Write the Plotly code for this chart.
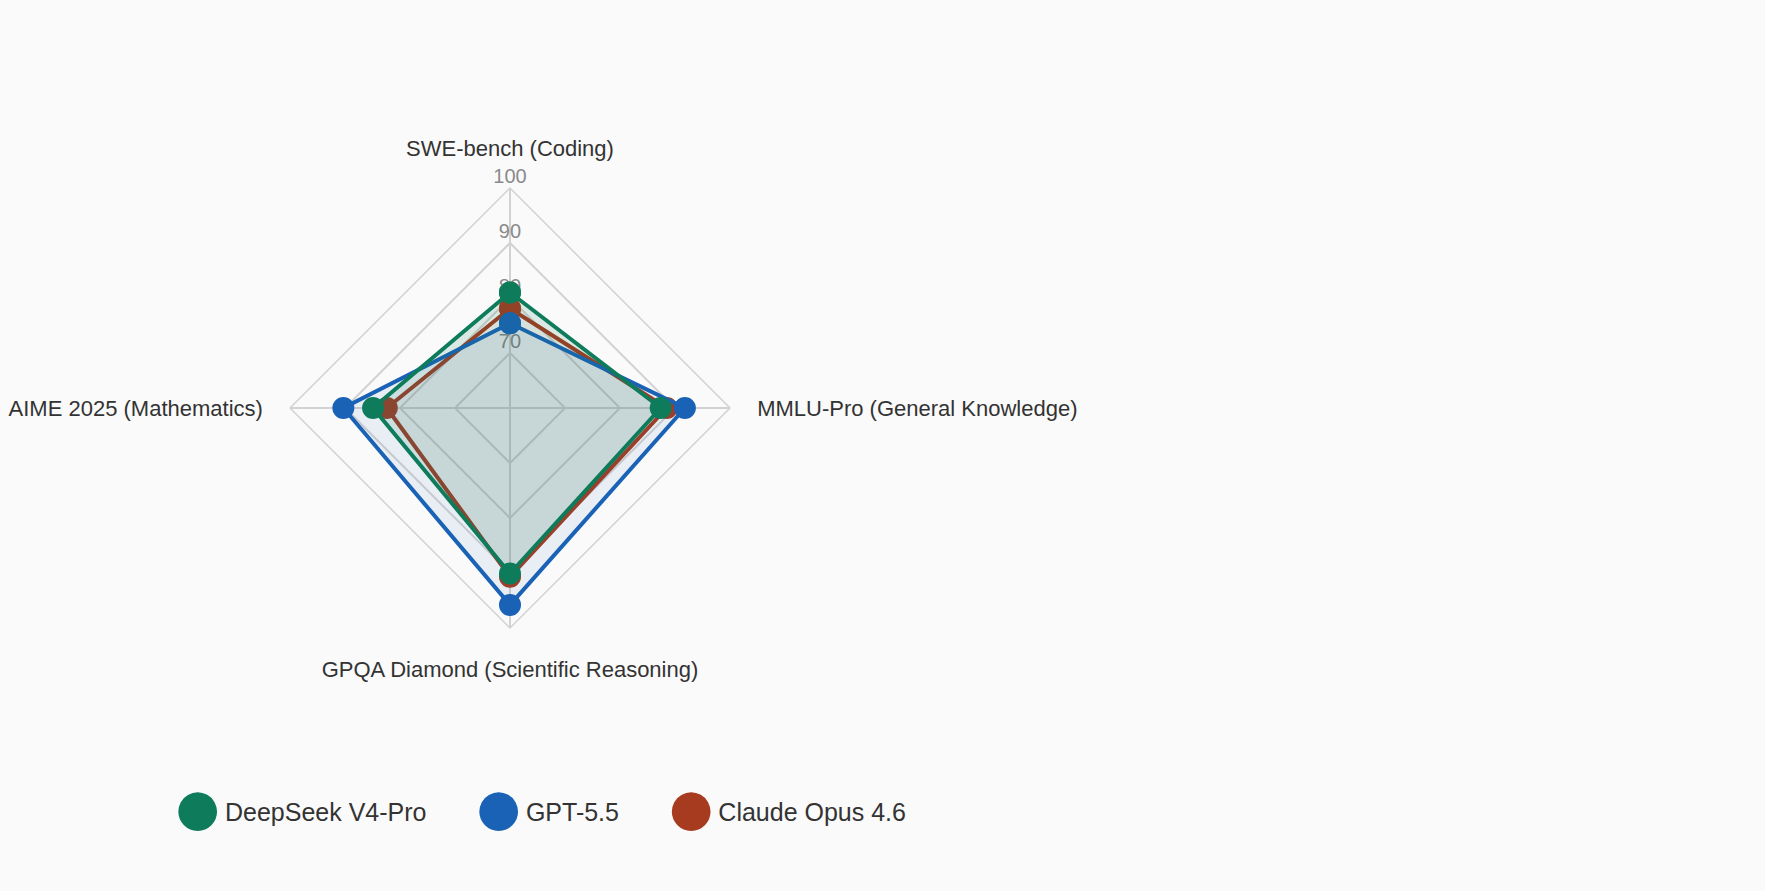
import plotly.graph_objects as go

# ベンチマーク（時計回り、上から）
benchmarks = [
    "SWE-bench (Coding)",
    "MMLU-Pro (General Knowledge)",
    "GPQA Diamond (Scientific Reasoning)",
    "AIME 2025 (Mathematics)",
]

models = ["DeepSeek V4-Pro", "GPT-5.5", "Claude Opus 4.6"]

deepseek_scores = [81.0, 87.4, 90.1, 84.9]
gpt_scores = [75.4, 91.8, 95.8, 90.3]
claude_scores = [78.1, 88.5, 90.7, 82.4]

radial_ticks = [70, 80, 90, 100]

colors = {
    "DeepSeek V4-Pro": "#0e7c5b",
    "GPT-5.5": "#1a62b6",
    "Claude Opus 4.6": "#a63b1f",
}
fills = {
    "DeepSeek V4-Pro": "rgba(14,124,91,0.13)",
    "GPT-5.5": "rgba(26,98,182,0.08)",
    "Claude Opus 4.6": "rgba(166,59,31,0.05)",
}
scores = {
    "DeepSeek V4-Pro": deepseek_scores,
    "GPT-5.5": gpt_scores,
    "Claude Opus 4.6": claude_scores,
}

FONT = "Liberation Sans, Arial, sans-serif"

fig = go.Figure()

# 目盛りラベル（軸上に中央寄せ）
fig.add_trace(go.Scatterpolar(
    r=radial_ticks,
    theta=[benchmarks[0]] * len(radial_ticks),
    mode="text",
    text=[str(v) for v in radial_ticks],
    textposition="top center",
    textfont=dict(size=20, color="#8a8a8a", family=FONT),
    marker=dict(size=0),
    showlegend=False,
    hoverinfo="skip",
))

# 描画順: 先頭のモデルが一番上
for name in reversed(models):
    vals = scores[name]
    fig.add_trace(go.Scatterpolar(
        r=vals + vals[:1],
        theta=benchmarks + benchmarks[:1],
        name=name,
        mode="lines+markers",
        fill="toself",
        fillcolor=fills[name],
        line=dict(color=colors[name], width=4),
        marker=dict(size=17, color=colors[name], line=dict(color=colors[name], width=5)),
        showlegend=False,
    ))

# 凡例用（大きい丸は文字で）
for name in models:
    fig.add_trace(go.Scatterpolar(
        r=[None],
        theta=[benchmarks[0]],
        name=(f'<span style="font-size:90px;baseline-shift:-16px;color:{colors[name]}">●</span>'
              f'{name}'),
        mode="markers",
        marker=dict(size=1, color="rgba(0,0,0,0)"),
    ))

fig.update_layout(
    width=1765,
    height=891,
    paper_bgcolor="#fafafa",
    plot_bgcolor="#fafafa",
    margin=dict(l=0, r=0, t=0, b=0),
    font=dict(family=FONT, color="#333333"),
    polar=dict(
        domain=dict(x=[0.1643, 0.4136], y=[0.2952, 0.789]),
        bgcolor="rgba(0,0,0,0)",
        gridshape="linear",
        radialaxis=dict(
            range=[60, 100],
            tickvals=radial_ticks,
            showticklabels=False,
            ticks="",
            showline=False,
            gridcolor="#d2d2d2",
            gridwidth=1.5,
            angle=90,
        ),
        angularaxis=dict(
            direction="clockwise",
            rotation=90,
            gridcolor="#d2d2d2",
            gridwidth=1.5,
            linecolor="#d2d2d2",
            linewidth=1.5,
            ticks="outside",
            ticklen=22,
            tickcolor="rgba(0,0,0,0)",
            tickfont=dict(size=22, color="#333333"),
        ),
    ),
    legend=dict(
        orientation="h",
        x=0.074,
        y=0.089,
        yanchor="middle",
        font=dict(size=25, color="#333333"),
        bgcolor="rgba(0,0,0,0)",
    ),
)

fig.write_html(
    "out.html",
    config={"displayModeBar": False},
    post_script="document.body.style.margin='0';document.body.style.background='#fafafa';",
)
